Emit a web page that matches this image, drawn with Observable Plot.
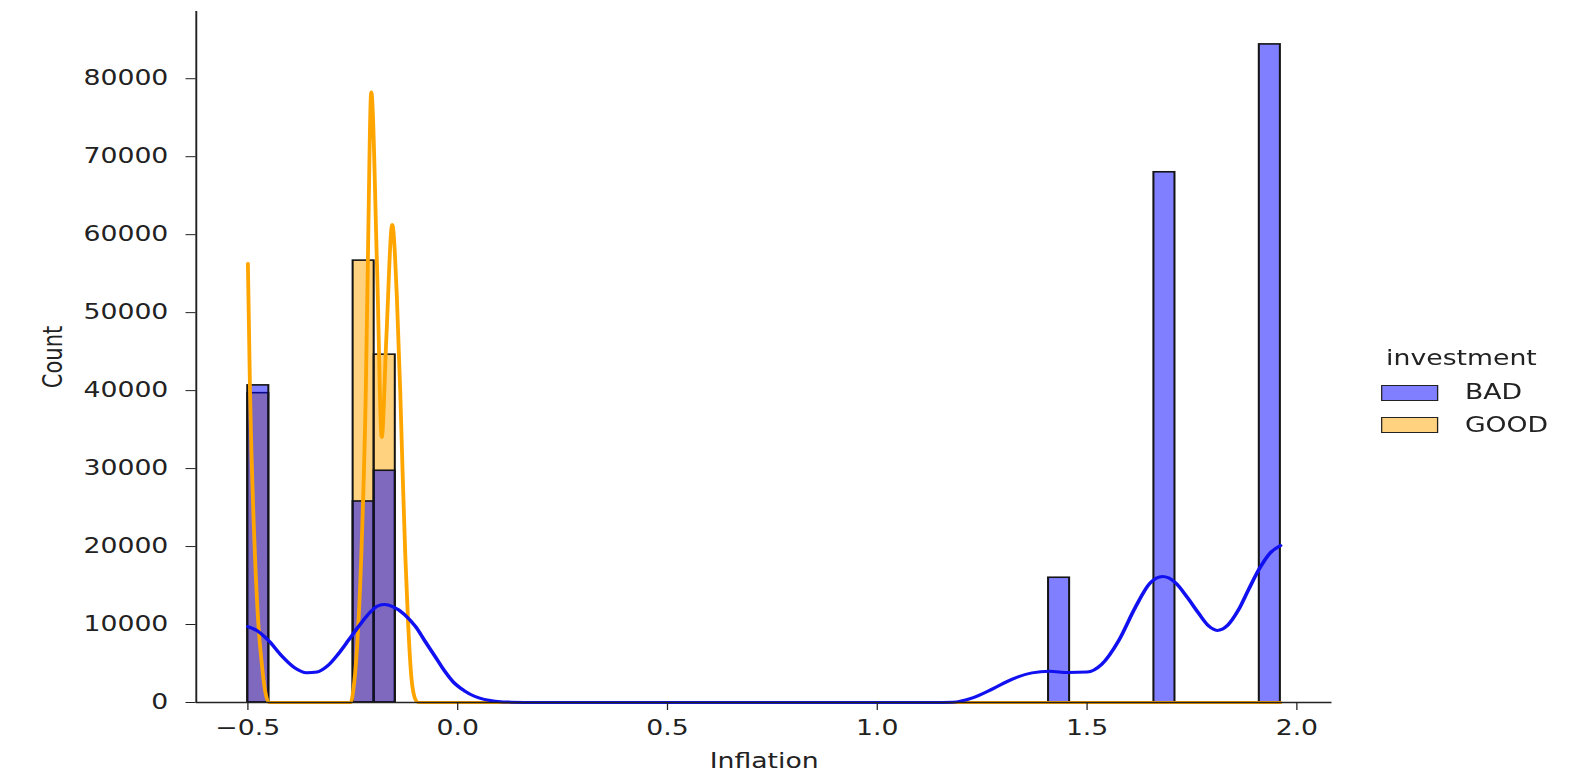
<!DOCTYPE html>
<html>
<head>
<meta charset="utf-8">
<script src="https://cdn.jsdelivr.net/npm/d3@7"></script>
<script src="https://cdn.jsdelivr.net/npm/@observablehq/plot@0.6"></script>
<style>
  html, body { margin: 0; padding: 0; background: #fff; overflow: hidden; }
  #fig { position: relative; width: 1246px; height: 775px; transform: scale(1.2705, 1); transform-origin: 0 0;
         font-family: "DejaVu Sans", sans-serif; color: #222; }
  #chart { position: absolute; left: 0; top: 0; }
  #legend { position: absolute; left: 1087px; top: 348px; font-size: 21px; line-height: 21px; }
  #legend .title { height: 21px; margin-left: 4px; margin-bottom: 13px; }
  #legend .row { display: flex; align-items: center; height: 21px; margin-bottom: 11.5px; }
  #legend .sw { display: inline-block; width: 43px; height: 14px; border: 1.6px solid #222; margin-right: 21px; }
</style>
</head>
<body>
<div id="fig"><div id="chart"></div><div id="legend"></div></div>
<script>
// ---- data (Inflation histogram, 49 bins; only non-empty bins listed) ----
const binLo   = [-0.5,    -0.2489, -0.1987, 1.4085, 1.6596, 1.9108];
const binHi   = [-0.4498, -0.1987, -0.1484, 1.4587, 1.7098, 1.9610];
const badCount  = [40670, 25780, 29720, 16000, 68000, 84400];
const goodCount = [39670, 56670, 44610, 0, 0, 0];

// KDE curves (scaled to counts)
const badKdeX = [-0.5, -0.475, -0.45, -0.42, -0.39, -0.36, -0.335, -0.31, -0.285, -0.26, -0.237, -0.21, -0.19, -0.174, -0.155, -0.127, -0.10, -0.079, -0.055, -0.032, -0.01, 0.016, 0.04, 0.063, 0.09, 0.12, 0.16, 0.2, 0.5, 0.8, 1.1, 1.13, 1.18, 1.227, 1.275, 1.322, 1.369, 1.41, 1.455, 1.50, 1.535, 1.575, 1.615, 1.65, 1.68, 1.71, 1.74, 1.765, 1.79, 1.81, 1.835, 1.86, 1.885, 1.91, 1.935, 1.961];
const badKdeY = [9740, 9100, 7900, 6000, 4500, 3800, 3900, 4700, 6200, 8000, 9700, 11500, 12400, 12560, 12300, 11300, 9700, 7950, 6000, 4100, 2600, 1500, 800, 400, 170, 60, 10, 0, 0, 0, 0, 0, 40, 600, 1750, 3000, 3800, 4000, 3850, 3900, 4900, 7900, 12200, 15300, 16150, 15400, 13400, 11500, 9800, 9250, 9900, 11800, 14500, 17100, 19100, 20130];
const goodKdeX = [-0.5, -0.495, -0.484, -0.475, -0.466, -0.459, -0.45, -0.35, -0.255, -0.249, -0.240, -0.229, -0.219, -0.214, -0.206, -0.192, -0.181, -0.170, -0.156, -0.145, -0.137, -0.131, -0.125, -0.118, -0.110, -0.100, -0.094, 0.5, 1.0, 1.5, 1.961];
const goodKdeY = [56300, 40000, 20000, 10000, 4500, 1500, 0, 0, 0, 1500, 7000, 20000, 40000, 57000, 78300, 55400, 34000, 46800, 61300, 52000, 40000, 29000, 19000, 10000, 3000, 300, 0, 0, 0, 0, 0];

const seriesNames = ["BAD", "GOOD"];
const xTicks = [-0.5, 0, 0.5, 1, 1.5, 2];
const xTickLabels = ["\u22120.5", "0.0", "0.5", "1.0", "1.5", "2.0"];
const yTicks = [0, 10000, 20000, 30000, 40000, 50000, 60000, 70000, 80000];
const xDomain = [-0.623, 2.084];
const yDomain = [0, 88620];

// ---- tables ----
const badBars = binLo.map((lo, i) => ({x1: lo, x2: binHi[i], y: badCount[i]})).filter(d => d.y > 0);
const goodBars = binLo.map((lo, i) => ({x1: lo, x2: binHi[i], y: goodCount[i]})).filter(d => d.y > 0);
const badKde = badKdeX.map((x, i) => ({x, y: badKdeY[i]}));
const goodKde = goodKdeX.map((x, i) => ({x, y: goodKdeY[i]}));

const colors = {BAD: "#0000ff", GOOD: "#ffa500"};
const edge = "#141414";

const chart = Plot.plot({
  width: 1060,
  height: 775,
  marginLeft: 154,
  marginRight: 12,
  marginTop: 11,
  marginBottom: 73,
  style: {fontFamily: "DejaVu Sans, sans-serif", fontSize: "21px", color: "#222", background: "white"},
  x: {domain: xDomain},
  y: {domain: yDomain},
  marks: [
    Plot.rectY(goodBars, {x1: "x1", x2: "x2", y: "y", fill: colors.GOOD, fillOpacity: 0.5, stroke: edge, strokeWidth: 1.6}),
    Plot.rectY(badBars, {x1: "x1", x2: "x2", y: "y", fill: colors.BAD, fillOpacity: 0.5, stroke: edge, strokeWidth: 1.6}),
    Plot.line(goodKde, {x: "x", y: "y", stroke: colors.GOOD, strokeWidth: 3, curve: "monotone-x"}),
    Plot.line(badKde, {x: "x", y: "y", stroke: "#1010f0", strokeWidth: 3, curve: "monotone-x"}),
    Plot.ruleY([yDomain[0]], {stroke: "#222", strokeWidth: 1.5}),
    Plot.ruleX([xDomain[0]], {stroke: "#222", strokeWidth: 1.5}),
    Plot.axisX({ticks: xTicks, tickFormat: d => xTickLabels[xTicks.indexOf(d)], tickSize: 8, tickPadding: 10,
                label: "Inflation", labelAnchor: "center", labelOffset: 65, labelArrow: "none"}),
    Plot.axisY({ticks: yTicks, tickFormat: d => String(d), tickSize: 8, tickPadding: 14,
                label: "Count", labelAnchor: "center", labelOffset: 121, labelArrow: "none"})
  ]
});
document.getElementById("chart").appendChild(chart);

// ---- legend ----
const legend = document.getElementById("legend");
const t = document.createElement("div");
t.className = "title";
t.textContent = "investment";
legend.appendChild(t);
seriesNames.forEach(name => {
  const row = document.createElement("div");
  row.className = "row";
  const sw = document.createElement("span");
  sw.className = "sw";
  sw.style.background = name === "BAD" ? "rgba(0,0,255,0.5)" : "rgba(255,165,0,0.5)";
  const lab = document.createElement("span");
  lab.textContent = name;
  row.appendChild(sw);
  row.appendChild(lab);
  legend.appendChild(row);
});
</script>
</body>
</html>
